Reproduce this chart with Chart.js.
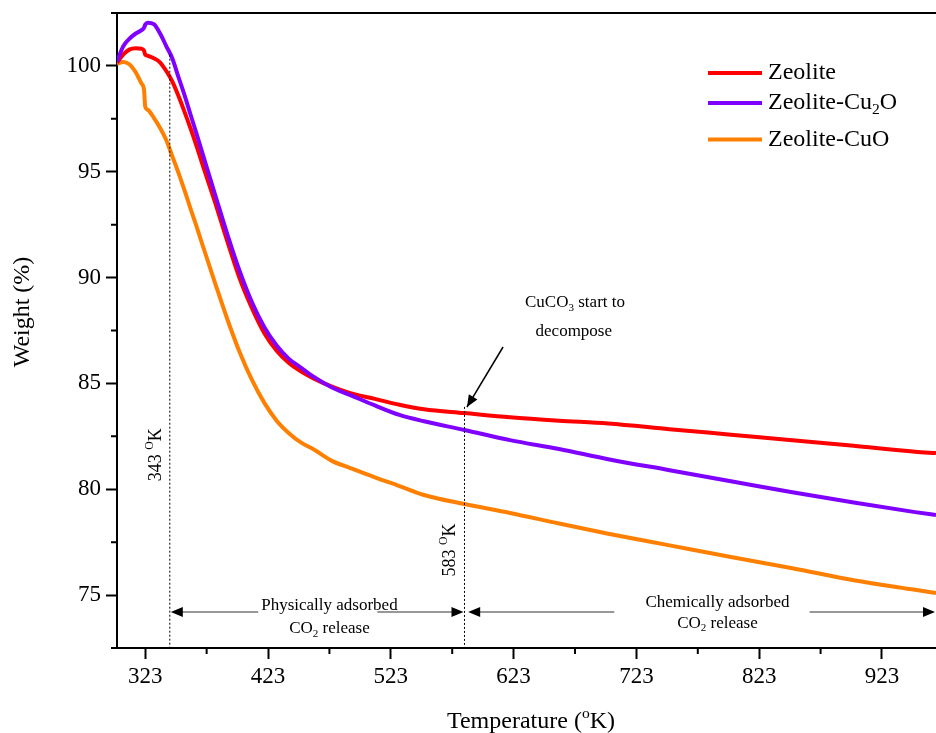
<!DOCTYPE html>
<html>
<head>
<meta charset="utf-8">
<script src="https://cdn.jsdelivr.net/npm/chart.js@4.4.0/dist/chart.umd.min.js"></script>
<style>
body { margin: 0; background: #fff; }
#wrap { width: 936px; height: 733px; }
</style>
</head>
<body>
<div id="wrap"><canvas id="tga" width="936" height="733"></canvas></div>
<script>
// temperature (K) and weight (%)
const temps = [300, 305, 310, 315, 320, 322, 323, 325, 330, 335, 340, 345, 350, 355, 360, 365, 370, 380, 390, 400,
               410, 420, 430, 440, 450, 460, 475, 490, 510, 530, 550, 583, 620, 660, 700, 750, 800, 850, 900, 950, 967];
const zeolite = [100.15, 100.53, 100.77, 100.84, 100.81, 100.72, 100.53, 100.48, 100.36, 100.17, 99.77, 99.27, 98.59, 97.83, 97.03, 96.18, 95.28, 93.53, 91.69, 89.94,
                 88.54, 87.37, 86.54, 85.96, 85.56, 85.24, 84.85, 84.54, 84.27, 83.99, 83.78, 83.6, 83.4, 83.24, 83.11, 82.84, 82.58, 82.32, 82.05, 81.77, 81.71];
const zeoliteCu2O = [100.2, 100.92, 101.28, 101.52, 101.69, 101.8, 101.95, 102.04, 101.97, 101.54, 100.95, 100.36, 99.48, 98.62, 97.68, 96.75, 95.8, 93.9, 92.02, 90.29,
                     88.82, 87.65, 86.79, 86.16, 85.74, 85.32, 84.81, 84.45, 83.96, 83.51, 83.21, 82.8, 82.32, 81.9, 81.42, 80.9, 80.38, 79.86, 79.37, 78.92, 78.78];
const zeoliteCuO = [100.11, 100.18, 100.08, 99.72, 99.16, 98.87, 98.07, 97.93, 97.55, 97.08, 96.51, 95.74, 94.96, 94.12, 93.24, 92.38, 91.48, 89.72, 88.01, 86.46,
                    85.15, 84.08, 83.24, 82.65, 82.2, 81.89, 81.34, 81.0, 80.56, 80.15, 79.73, 79.3, 78.88, 78.38, 77.9, 77.35, 76.8, 76.27, 75.7, 75.25, 75.1];

const xTicks = [323, 423, 523, 623, 723, 823, 923];
const xMinor = [373, 473, 573, 673, 773, 873];
const yTicks = [75, 80, 85, 90, 95, 100];
const yMinor = [72.5, 77.5, 82.5, 87.5, 92.5, 97.5, 102.5];

const serif = "'Liberation Serif', 'Times New Roman', serif";

function pts(arr) {
  return temps.map((t, i) => ({x: t, y: arr[i]}));
}

// parts: [text, shift] shift 0 normal, -1 subscript, 1 superscript
function richWidth(ctx, parts, size) {
  let w = 0;
  parts.forEach(p => {
    ctx.font = (p[1] ? size * 0.65 : size) + "px " + serif;
    w += ctx.measureText(p[0]).width;
  });
  return w;
}

function drawRich(ctx, parts, x, y, size, align) {
  let w = richWidth(ctx, parts, size);
  let cx = align === "left" ? x : x - w / 2;
  ctx.textBaseline = "middle";
  ctx.textAlign = "left";
  ctx.fillStyle = "#000";
  parts.forEach(p => {
    let s = p[1] ? size * 0.65 : size;
    ctx.font = s + "px " + serif;
    let dy = p[1] === -1 ? size * 0.3 : (p[1] === 1 ? -size * 0.35 : 0);
    ctx.fillText(p[0], cx, y + dy);
    cx += ctx.measureText(p[0]).width;
  });
}

function arrowHead(ctx, x, y, ang) {
  let len = 12, hw = 5;
  ctx.save();
  ctx.translate(x, y);
  ctx.rotate(ang);
  ctx.beginPath();
  ctx.moveTo(0, 0);
  ctx.lineTo(-len, -hw);
  ctx.lineTo(-len, hw);
  ctx.closePath();
  ctx.fillStyle = "#000";
  ctx.fill();
  ctx.restore();
}

function hLine(ctx, x1, x2, y, color) {
  ctx.beginPath();
  ctx.moveTo(x1, y);
  ctx.lineTo(x2, y);
  ctx.strokeStyle = color;
  ctx.stroke();
}

const decorations = {
  id: "decorations",
  afterDraw(chart) {
    const ctx = chart.ctx, xs = chart.scales.x, ys = chart.scales.y, area = chart.chartArea;
    const X = v => xs.getPixelForValue(v), Y = v => ys.getPixelForValue(v);
    ctx.save();

    // top frame line
    ctx.lineWidth = 2;
    hLine(ctx, area.left, area.right, area.top, "#000");

    // minor ticks
    ctx.beginPath();
    xMinor.forEach(v => { ctx.moveTo(X(v), area.bottom); ctx.lineTo(X(v), area.bottom + 6); });
    yMinor.forEach(v => { ctx.moveTo(area.left, Y(v)); ctx.lineTo(area.left - 6, Y(v)); });
    ctx.strokeStyle = "#000";
    ctx.stroke();

    // dotted markers at 343 and 583 K
    ctx.lineWidth = 1;
    ctx.setLineDash([2, 2]);
    ctx.beginPath();
    ctx.moveTo(X(343), Y(100.53)); ctx.lineTo(X(343), area.bottom);
    ctx.moveTo(X(583), Y(83.89)); ctx.lineTo(X(583), area.bottom);
    ctx.stroke();
    ctx.setLineDash([]);

    // rotated temperature labels
    [[331.8, 81.63, "343 "], [571.2, 77.13, "583 "]].forEach(l => {
      ctx.save();
      ctx.translate(X(l[0]), Y(l[1]));
      ctx.rotate(-Math.PI / 2);
      drawRich(ctx, [[l[2], 0], ["O", 1], ["K", 0]], 0, 0, 18, "center");
      ctx.restore();
    });

    // range arrows
    const ay = Y(74.2);
    ctx.lineWidth = 1.2;
    hLine(ctx, X(343) + 10, X(415), ay, "#333");
    hLine(ctx, X(512), X(583) - 10, ay, "#333");
    arrowHead(ctx, X(343) + 1, ay, Math.PI);
    arrowHead(ctx, X(583) - 1, ay, 0);
    hLine(ctx, X(586) + 10, X(705), ay, "#333");
    hLine(ctx, X(864), area.right - 10, ay, "#333");
    arrowHead(ctx, X(586), ay, Math.PI);
    arrowHead(ctx, area.right - 1, ay, 0);

    drawRich(ctx, [["Physically adsorbed", 0]], X(473), Y(74.49), 17, "center");
    drawRich(ctx, [["CO", 0], ["2", -1], [" release", 0]], X(473), Y(73.41), 17, "center");
    drawRich(ctx, [["Chemically adsorbed", 0]], X(789), Y(74.66), 17, "center");
    drawRich(ctx, [["CO", 0], ["2", -1], [" release", 0]], X(789), Y(73.66), 17, "center");

    // decomposition arrow
    const x1 = X(614.4), y1 = Y(86.72), x2 = X(585), y2 = Y(83.88);
    ctx.lineWidth = 1.5;
    ctx.beginPath();
    ctx.moveTo(x1, y1);
    ctx.lineTo(x2, y2);
    ctx.strokeStyle = "#000";
    ctx.stroke();
    arrowHead(ctx, x2, y2, Math.atan2(y2 - y1, x2 - x1));
    drawRich(ctx, [["CuCO", 0], ["3", -1], [" start to", 0]], X(673), Y(88.8), 17, "center");
    drawRich(ctx, [["decompose", 0]], X(672), Y(87.43), 17, "center");

    // legend
    const legend = [["#ff0000", [["Zeolite", 0]], 73], ["#8000ff", [["Zeolite-Cu", 0], ["2", -1], ["O", 0]], 103], ["#ff8000", [["Zeolite-CuO", 0]], 139.5]];
    ctx.lineWidth = 4;
    legend.forEach(l => {
      hLine(ctx, 708, 762, l[2], l[0]);
      drawRich(ctx, l[1], 768, l[2], 24, "left");
    });

    // axis titles
    drawRich(ctx, [["Temperature (", 0], ["o", 1], ["K)", 0]], 531, 722, 24, "center");
    ctx.save();
    ctx.translate(23, 312);
    ctx.rotate(-Math.PI / 2);
    drawRich(ctx, [["Weight (%)", 0]], 0, 0, 24, "center");
    ctx.restore();

    ctx.restore();
  }
};

const ctx = document.getElementById("tga").getContext("2d");

const tgaChart = new Chart(ctx, {
  type: "line",
  data: {
    datasets: [{
      label: "Zeolite",
      data: pts(zeolite),
      borderColor: "#ff0000",
      order: 2
    }, {
      label: "Zeolite-Cu2O",
      data: pts(zeoliteCu2O),
      borderColor: "#8000ff",
      order: 1
    }, {
      label: "Zeolite-CuO",
      data: pts(zeoliteCuO),
      borderColor: "#ff8000",
      order: 3
    }]
  },
  options: {
    responsive: false,
    animation: false,
    layout: { padding: { top: 13, left: 0, right: 0, bottom: 0 } },
    elements: {
      line: { borderWidth: 4, cubicInterpolationMode: "monotone", fill: false },
      point: { radius: 0 }
    },
    plugins: {
      legend: { display: false },
      tooltip: { enabled: false }
    },
    scales: {
      x: {
        type: "linear",
        min: 300,
        max: 967,
        afterBuildTicks: s => { s.ticks = xTicks.map(v => ({value: v})); },
        afterFit: s => { s.height = 85; s.paddingLeft = 0; s.paddingRight = 0; },
        border: { display: true, color: "#000", width: 2 },
        grid: { display: true, drawOnChartArea: false, drawTicks: true, tickLength: 11, tickWidth: 2, tickColor: "#000", color: "#000" },
        ticks: { color: "#000", padding: 4, maxRotation: 0, font: { family: serif, size: 23 } }
      },
      y: {
        min: 72.5,
        max: 102.5,
        afterBuildTicks: s => { s.ticks = yTicks.map(v => ({value: v})); },
        afterFit: s => { s.width = 117; s.paddingTop = 0; s.paddingBottom = 0; },
        border: { display: true, color: "#000", width: 2 },
        grid: { display: true, drawOnChartArea: false, drawTicks: true, tickLength: 11, tickWidth: 2, tickColor: "#000", color: "#000" },
        ticks: { color: "#000", padding: 5, font: { family: serif, size: 23 } }
      }
    }
  },
  plugins: [decorations]
});
</script>
</body>
</html>
